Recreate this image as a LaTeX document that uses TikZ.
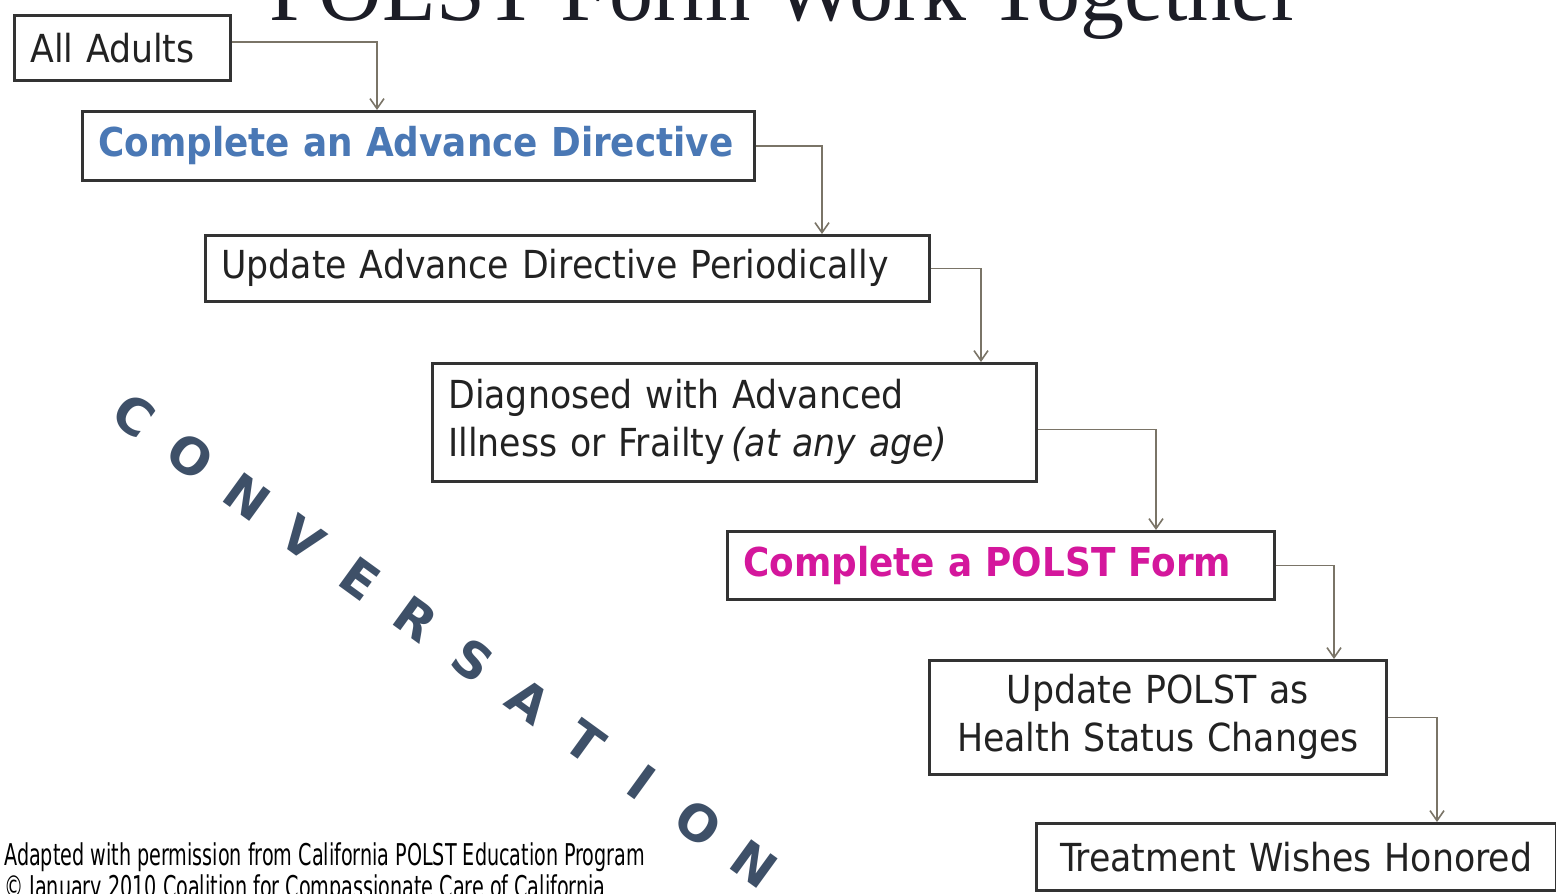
\documentclass[tikz,border=0pt]{standalone}
\usepackage{fontspec}
\usetikzlibrary{arrows.meta}
\newfontfamily\boxfont{DejaVu Sans Condensed}
\newfontfamily\convfont{DejaVu Sans}
\newfontfamily\titlefont{Liberation Serif}
\definecolor{adblue}{HTML}{4A78B5}
\definecolor{polstpink}{HTML}{D4179C}
\definecolor{convcol}{HTML}{3E5068}
\definecolor{linkcol}{HTML}{7A7467}
\definecolor{inkcol}{HTML}{222222}
\definecolor{titlecol}{HTML}{1C1D26}

\begin{document}
\begin{tikzpicture}[x=0.5pt,y=-0.5pt,
    stepbox/.style={draw=black!80, line width=1.3pt, fill=white, inner xsep=8pt, inner ysep=0pt,
        align=left, font=\boxfont\fontsize{19.3}{24}\selectfont, text=inkcol, anchor=north west},
    boldstep/.style={stepbox, font=\boxfont\bfseries\fontsize{19.9}{24}\selectfont},
    link/.style={draw=linkcol, line width=0.8pt, -{Straight Barb[length=5pt,width=7pt]}},
    convo/.style={font=\convfont\bfseries\fontsize{25}{25}\selectfont, text=convcol, rotate=-36}
    ]
    \useasboundingbox (0,0) rectangle (1556,893);
    \fill[white] (0,0) rectangle (1556,893);

    % title, cut at the top
    \node[font=\titlefont\fontsize{44}{44}\selectfont, text=titlecol, anchor=base] (title) at (785,21) {POLST Form Work Together};

    % the steps
    \node[stepbox, text width=92pt, minimum height=32.5pt] (adults) at (13,14) {All Adults};
    \node[boldstep, text width=320pt, minimum height=34.5pt, text=adblue] (adcomplete) at (81,110) {Complete an Advance Directive};
    \node[stepbox, text width=346pt, minimum height=33pt] (adupdate) at (204,234) {Update Advance Directive Periodically};
    \node[stepbox, text width=286pt, minimum height=59pt] (diagnosed) at (431,362) {Diagnosed with Advanced\\Illness or Frailty\,\textit{(at any age)}};
    \node[boldstep, text width=257.5pt, minimum height=34pt, text=polstpink] (polst) at (726,530) {Complete a POLST Form};
    \node[stepbox, text width=212.5pt, minimum height=57pt, align=center] (polstupdate) at (928,659) {Update POLST as\\Health Status Changes};
    \node[stepbox, inner xsep=3pt, text width=254pt, minimum height=33.5pt, align=center] (honored) at (1035,822) {Treatment Wishes Honored};

    % connectors
    \draw[link] ([yshift=3pt]adults.east) -| ([xshift=148pt]adcomplete.north west);
    \draw[link] (adcomplete.east) -| ([xshift=309pt]adupdate.north west);
    \draw[link] (adupdate.east) -| ([xshift=275pt]diagnosed.north west);
    \draw[link] ([yshift=-3.5pt]diagnosed.east) -| ([xshift=215pt]polst.north west);
    \draw[link] (polst.east) -| ([xshift=203pt]polstupdate.north west);
    \draw[link] (polstupdate.east) -| ([xshift=201pt]honored.north west);

    % diagonal word
    \foreach \ch [count=\i from 0] in {C,O,N,V,E,R,S,A,T,I,O,N} {
        \node[convo] (conv\i) at ({134+56.4*\i},{416+40.7*\i}) {\ch};
    }

    % source note
    \node[font=\boxfont\fontsize{15}{16}\selectfont, align=left, anchor=base west, xscale=0.71, inner sep=0pt, text=black] (source) at (4,897)
        {Adapted with permission from California POLST Education Program\\\textcopyright{} January 2010 Coalition for Compassionate Care of California};
\end{tikzpicture}
\end{document}
